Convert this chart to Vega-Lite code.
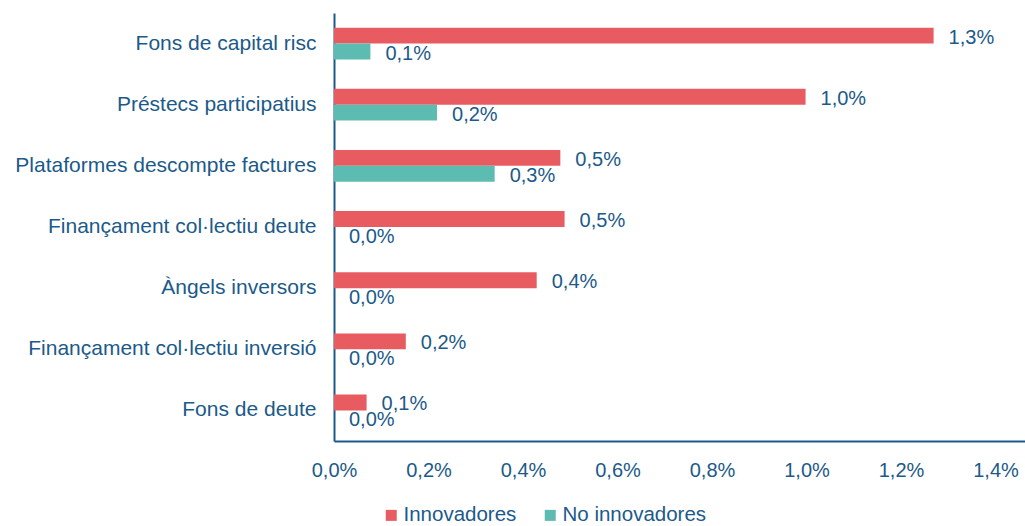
{
  "$schema": "https://vega.github.io/schema/vega-lite/v6.json",
  "width": 691,
  "height": 428,
  "autosize": {"type": "none"},
  "padding": {"left": 334, "top": 13, "right": 0, "bottom": 85},
  "background": "white",
  "config": {
    "locale": {"number": {"decimal": ",", "thousands": ".", "grouping": [3], "currency": ["", " €"]}},
    "view": {"stroke": null},
    "font": "Liberation Sans"
  },
  "data": {
    "values": [
      {"instrument": "Fons de capital risc", "grup": "Innovadores", "valor": 0.01269},
      {"instrument": "Fons de capital risc", "grup": "No innovadores", "valor": 0.00077},
      {"instrument": "Préstecs participatius", "grup": "Innovadores", "valor": 0.00998},
      {"instrument": "Préstecs participatius", "grup": "No innovadores", "valor": 0.00218},
      {"instrument": "Plataformes descompte factures", "grup": "Innovadores", "valor": 0.00479},
      {"instrument": "Plataformes descompte factures", "grup": "No innovadores", "valor": 0.0034},
      {"instrument": "Finançament col·lectiu deute", "grup": "Innovadores", "valor": 0.00488},
      {"instrument": "Finançament col·lectiu deute", "grup": "No innovadores", "valor": 0.0},
      {"instrument": "Àngels inversors", "grup": "Innovadores", "valor": 0.00429},
      {"instrument": "Àngels inversors", "grup": "No innovadores", "valor": 0.0},
      {"instrument": "Finançament col·lectiu inversió", "grup": "Innovadores", "valor": 0.00152},
      {"instrument": "Finançament col·lectiu inversió", "grup": "No innovadores", "valor": 0.0},
      {"instrument": "Fons de deute ", "grup": "Innovadores", "valor": 0.00069},
      {"instrument": "Fons de deute ", "grup": "No innovadores", "valor": 0.0}
    ]
  },
  "encoding": {
    "y": {
      "field": "instrument",
      "type": "nominal",
      "sort": null,
      "scale": {"paddingInner": 0.48, "paddingOuter": 0.24},
      "axis": {
        "title": null,
        "ticks": false,
        "labelPadding": 18,
        "labelFontSize": 21,
        "labelColor": "#1B5A8A",
        "labelLimit": 400,
        "domainColor": "#1B5A8A",
        "domainWidth": 2
      }
    },
    "yOffset": {
      "field": "grup",
      "type": "nominal",
      "sort": ["Innovadores", "No innovadores"],
      "scale": {"paddingInner": 0, "paddingOuter": 0}
    },
    "x": {
      "field": "valor",
      "type": "quantitative",
      "scale": {"domain": [0, 0.014624], "nice": false, "zero": true},
      "axis": {
        "title": null,
        "format": ".1%",
        "values": [0, 0.002, 0.004, 0.006, 0.008, 0.01, 0.012, 0.014],
        "grid": false,
        "ticks": false,
        "labelPadding": 19,
        "labelFontSize": 20,
        "labelColor": "#1B5A8A",
        "domainColor": "#1B5A8A",
        "domainWidth": 2,
        "labelFlush": false,
        "labelOverlap": false
      }
    }
  },
  "layer": [
    {
      "mark": {"type": "bar"},
      "encoding": {
        "color": {
          "field": "grup",
          "type": "nominal",
          "sort": ["Innovadores", "No innovadores"],
          "scale": {"domain": ["Innovadores", "No innovadores"], "range": ["#E85C61", "#5CBCB1"]},
          "legend": {
            "title": null,
            "orient": "none",
            "direction": "horizontal",
            "legendX": 47,
            "legendY": 492,
            "symbolType": "square",
            "symbolSize": 121,
            "symbolStrokeWidth": 0,
            "labelFontSize": 20.5,
            "labelColor": "#1B5A8A",
            "labelOffset": 2,
            "columnPadding": 23,
            "padding": 0
          }
        }
      }
    },
    {
      "mark": {"type": "text", "align": "left", "baseline": "middle", "dx": 15, "dy": 2, "fontSize": 20, "color": "#1B5A8A"},
      "encoding": {
        "text": {"field": "valor", "type": "quantitative", "format": ".1%"}
      }
    }
  ]
}
